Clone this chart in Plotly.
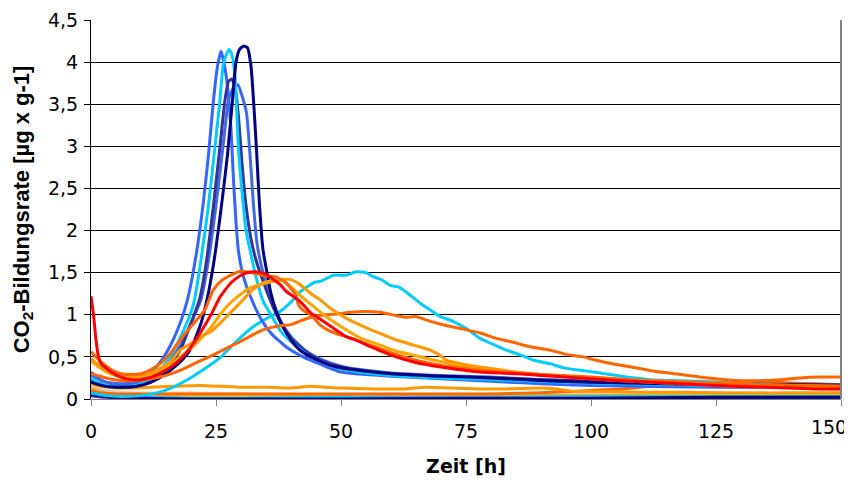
import plotly.graph_objects as go

# ---- data (hours, CO2 formation rate) ----
navy_t = [0, 3, 6, 9, 12, 15, 18, 20, 22, 23.2, 24.5, 26, 27.3, 28.3, 29, 29.7, 30.5, 31.3, 32, 32.5, 33.1, 33.7, 34.4, 35.2, 36, 37, 38, 40, 42, 45, 48, 50, 55, 60, 70, 80, 90, 100, 125, 150]
navy_y = [0.2, 0.15, 0.14, 0.15, 0.2, 0.3, 0.45, 0.6, 0.9, 1.18, 1.6, 2.25, 2.9, 3.55, 4.0, 4.15, 4.19, 4.17, 3.95, 3.55, 2.96, 2.3, 1.77, 1.5, 1.25, 1.05, 0.9, 0.7, 0.57, 0.47, 0.4, 0.37, 0.33, 0.3, 0.27, 0.25, 0.22, 0.2, 0.17, 0.16]

royal_t = [0, 2, 4, 6, 8, 10, 12, 14, 16, 18, 19.3, 21, 22.5, 23.5, 24.5, 25.3, 26, 27, 28, 28.5, 29, 29.5, 30.5, 32, 34, 36, 39, 42.4, 46, 50, 60, 70, 80, 90, 100, 125, 150]
royal_y = [0.32, 0.22, 0.19, 0.18, 0.19, 0.23, 0.32, 0.45, 0.65, 0.93, 1.18, 1.7, 2.35, 2.9, 3.55, 3.95, 4.13, 3.85, 3.2, 2.6, 2.1, 1.75, 1.45, 1.2, 0.95, 0.78, 0.62, 0.5, 0.41, 0.32, 0.27, 0.24, 0.21, 0.18, 0.16, 0.14, 0.13]

cyan_t = [0, 2, 4, 6, 8, 10, 12, 14, 16, 18, 20, 20.7, 22, 23.5, 24.8, 25.8, 26.5, 27.6, 28.2, 28.8, 29.5, 30.3, 31, 31.8, 33, 34.5, 35.8, 38, 40, 43.8, 48, 50, 55, 60, 70, 80, 90, 100, 125, 150]
cyan_y = [0.25, 0.18, 0.15, 0.14, 0.15, 0.18, 0.25, 0.36, 0.52, 0.75, 1.03, 1.18, 1.65, 2.3, 3.0, 3.55, 3.99, 4.15, 4.08, 3.83, 2.96, 2.4, 2.0, 1.77, 1.45, 1.15, 1.02, 0.8, 0.68, 0.5, 0.4, 0.36, 0.31, 0.28, 0.25, 0.23, 0.21, 0.19, 0.16, 0.15]

slate_t = [0, 3, 6, 9, 12, 15, 18, 20, 21.7, 23, 24.5, 25.8, 26.8, 27.5, 28.2, 28.8, 29.5, 30.2, 31, 32, 33, 34.4, 36, 38, 40, 43, 46, 50, 55, 60, 70, 80, 90, 100, 125, 150]
slate_y = [0.22, 0.16, 0.14, 0.15, 0.2, 0.33, 0.6, 0.9, 1.18, 1.6, 2.3, 3.0, 3.55, 3.77, 3.8, 3.7, 3.35, 2.8, 2.3, 1.9, 1.65, 1.4, 1.15, 0.9, 0.72, 0.56, 0.46, 0.38, 0.33, 0.3, 0.27, 0.25, 0.23, 0.21, 0.18, 0.17]

blue_t = [0, 3, 6, 9, 12, 15, 18, 20, 22, 23.5, 25, 26.5, 27.5, 28.5, 29.4, 30.2, 31.1, 31.8, 32.5, 33.2, 34, 35, 36.5, 38, 40, 43, 46, 50, 55, 60, 70, 80, 90, 100, 125, 150]
blue_y = [0.28, 0.2, 0.17, 0.18, 0.24, 0.38, 0.65, 0.9, 1.18, 1.65, 2.3, 3.05, 3.55, 3.7, 3.73, 3.6, 3.4, 2.9, 2.3, 1.85, 1.6, 1.38, 1.12, 0.92, 0.74, 0.57, 0.47, 0.39, 0.34, 0.31, 0.28, 0.26, 0.23, 0.21, 0.18, 0.16]

wide_cyan_t = [0, 3, 6, 10, 13, 16, 19, 22, 26, 29, 32.5, 35.8, 37.8, 40, 42, 44.5, 46, 48.5, 51, 53, 55, 56.5, 58, 59.8, 61.5, 63, 65.8, 68, 69.8, 72.5, 75, 77.8, 80, 83.1, 86, 88.5, 91.8, 94.5, 98, 101.8, 106, 111.8, 116, 121.8, 130, 138, 150]
wide_cyan_y = [0.07, 0.04, 0.03, 0.04, 0.07, 0.13, 0.22, 0.33, 0.5, 0.68, 0.86, 0.98, 1.04, 1.15, 1.28, 1.38, 1.4, 1.47, 1.47, 1.51, 1.5, 1.45, 1.42, 1.35, 1.33, 1.27, 1.14, 1.05, 0.98, 0.92, 0.84, 0.72, 0.66, 0.58, 0.52, 0.46, 0.42, 0.37, 0.34, 0.31, 0.27, 0.23, 0.22, 0.21, 0.19, 0.17, 0.15]

red_t = [0, 0.5, 1, 1.5, 2, 4, 6, 8, 10, 12, 14, 16, 18, 20, 22, 24, 25.8, 28, 30, 31.2, 33, 35, 37.8, 39, 41.8, 44, 45.8, 48, 51, 53, 56, 60, 64.5, 70, 77.8, 85, 90, 97.8, 105, 115, 125, 135, 145, 150]
red_y = [1.22, 1.0, 0.7, 0.5, 0.42, 0.32, 0.26, 0.23, 0.23, 0.26, 0.31, 0.38, 0.48, 0.62, 0.8, 1.0, 1.21, 1.38, 1.47, 1.5, 1.51, 1.48, 1.36, 1.28, 1.16, 1.02, 0.95, 0.86, 0.74, 0.7, 0.62, 0.52, 0.44, 0.38, 0.32, 0.3, 0.28, 0.25, 0.22, 0.19, 0.16, 0.14, 0.12, 0.12]

early_orange_t = [0, 1, 2, 4, 6, 8, 10, 12, 14, 16, 17.8, 20, 22.8, 24.4, 26, 28, 30, 31, 33, 35, 37, 39, 40.8, 41.5, 42.5, 44, 45.8, 48, 51, 55.8, 60, 65, 70, 75, 80, 90, 100, 110, 120, 130, 140, 150]
early_orange_y = [0.56, 0.5, 0.44, 0.35, 0.3, 0.29, 0.3, 0.35, 0.43, 0.55, 0.7, 0.86, 1.06, 1.29, 1.4, 1.47, 1.52, 1.51, 1.49, 1.46, 1.45, 1.38, 1.25, 1.12, 1.05, 1.0, 0.88, 0.8, 0.74, 0.64, 0.55, 0.46, 0.4, 0.36, 0.33, 0.29, 0.26, 0.22, 0.2, 0.18, 0.16, 0.15]

amber_t = [0, 2, 4, 6, 8, 10, 12, 14, 16, 17.8, 20, 22, 24, 25.8, 27.5, 29.8, 32.4, 34.4, 37, 39.8, 41.8, 44, 45.8, 47.8, 51, 54.5, 57.8, 61.1, 64.5, 67.8, 69.5, 71.1, 74, 77.8, 85, 90, 97.8, 105, 115, 125, 135, 150]
amber_y = [0.48, 0.38, 0.3, 0.26, 0.25, 0.27, 0.31, 0.37, 0.45, 0.58, 0.66, 0.74, 0.8, 0.9, 1.0, 1.14, 1.3, 1.38, 1.41, 1.42, 1.36, 1.25, 1.18, 1.08, 0.96, 0.86, 0.78, 0.7, 0.64, 0.58, 0.53, 0.46, 0.42, 0.38, 0.32, 0.29, 0.25, 0.22, 0.19, 0.16, 0.14, 0.12]

gold_t = [0, 2, 4, 6, 8, 10, 12, 14, 16, 17.8, 20, 22, 24, 25.8, 27.5, 29, 31.8, 34, 37, 38.5, 40, 42, 44.5, 47, 51.1, 54, 57.8, 61, 64.5, 68, 71.1, 75, 80, 90, 100, 110, 120, 130, 140, 150]
gold_y = [0.45, 0.36, 0.3, 0.27, 0.26, 0.27, 0.3, 0.35, 0.41, 0.5, 0.6, 0.72, 0.85, 1.0, 1.12, 1.2, 1.32, 1.36, 1.4, 1.4, 1.33, 1.22, 1.1, 0.98, 0.82, 0.72, 0.64, 0.57, 0.52, 0.47, 0.43, 0.38, 0.34, 0.29, 0.25, 0.22, 0.2, 0.18, 0.16, 0.15]

late_orange_t = [0, 3, 6, 9, 12, 15, 17.8, 21, 24.4, 27, 29.8, 32, 34.4, 37.8, 39.8, 42, 44.5, 47, 49.1, 52, 54.5, 57.8, 61.1, 63, 65, 67, 69.8, 72, 74.5, 78, 81.1, 84, 87.8, 91.8, 95, 98.5, 101, 105, 110, 113.8, 118, 121.8, 125, 129, 135, 138, 141.8, 146, 150]
late_orange_y = [0.3, 0.25, 0.22, 0.22, 0.24, 0.28, 0.34, 0.43, 0.52, 0.6, 0.68, 0.75, 0.82, 0.87, 0.88, 0.93, 0.98, 1.0, 1.01, 1.03, 1.04, 1.03, 0.99, 0.97, 0.98, 0.94, 0.89, 0.86, 0.83, 0.78, 0.72, 0.68, 0.62, 0.58, 0.53, 0.5, 0.46, 0.41, 0.36, 0.32, 0.29, 0.26, 0.24, 0.22, 0.22, 0.23, 0.25, 0.26, 0.26]

flat_orange_t = [0, 2, 5, 8, 12, 16, 21.8, 26, 30, 35, 39.8, 43.8, 47, 50, 57, 63, 67, 72, 78, 83, 90, 93, 96.5, 100, 110, 120, 130, 140, 150]
flat_orange_y = [0.18, 0.15, 0.13, 0.13, 0.14, 0.15, 0.16, 0.15, 0.14, 0.14, 0.13, 0.15, 0.14, 0.13, 0.12, 0.12, 0.14, 0.13, 0.12, 0.12, 0.13, 0.12, 0.09, 0.09, 0.08, 0.08, 0.07, 0.07, 0.07]

low_red_orange_t = [0, 2, 5, 10, 20, 30, 40, 50, 60, 70, 80, 88, 92, 96, 100, 106, 111.8, 116, 121.8, 126, 131.8, 136, 140, 145, 150]
low_red_orange_y = [0.1, 0.07, 0.06, 0.06, 0.06, 0.06, 0.06, 0.06, 0.06, 0.06, 0.06, 0.07, 0.08, 0.09, 0.1, 0.12, 0.15, 0.17, 0.19, 0.2, 0.21, 0.2, 0.19, 0.18, 0.17]

base_t = [0, 3, 6, 10, 20, 30, 50, 75, 100, 125, 150]
base_cyan_y = [0.08, 0.04, 0.03, 0.02, 0.01, 0.01, 0.02, 0.02, 0.03, 0.03, 0.03]
base_navy_y = [0.06, 0.03, 0.02, 0.01, 0.0, 0.0, 0.0, 0.01, 0.01, 0.02, 0.02]
base_yellow_y = [0.1, 0.06, 0.05, 0.04, 0.03, 0.03, 0.02, 0.03, 0.03, 0.04, 0.04]
base_amber_y = [0.12, 0.07, 0.05, 0.05, 0.04, 0.04, 0.04, 0.04, 0.04, 0.05, 0.05]
base_skyblue_y = [0.13, 0.08, 0.06, 0.05, 0.04, 0.04, 0.03, 0.04, 0.04, 0.05, 0.05]
base_tan_y = [0.15, 0.1, 0.08, 0.07, 0.07, 0.06, 0.05, 0.05, 0.06, 0.07, 0.08]
base_slate_y = [0.04, 0.02, 0.01, 0.01, 0.0, 0.0, 0.0, 0.0, 0.01, 0.01, 0.01]

x_ticks = [0, 25, 50, 75, 100, 125, 150]
x_tick_labels = ["0", "25", "50", "75", "100", "125", "150"]
y_ticks = [0, 0.5, 1, 1.5, 2, 2.5, 3, 3.5, 4, 4.5]

series = [
    (base_t, base_tan_y, "#FFCC99"),
    (base_t, base_skyblue_y, "#99CCFF"),
    (base_t, base_amber_y, "#FF9900"),
    (base_t, base_yellow_y, "#FFCC00"),
    (base_t, base_slate_y, "#333399"),
    (base_t, base_cyan_y, "#00CCFF"),
    (base_t, base_navy_y, "#000080"),
    (low_red_orange_t, low_red_orange_y, "#FF6600"),
    (flat_orange_t, flat_orange_y, "#FF9900"),
    (wide_cyan_t, wide_cyan_y, "#00CCFF"),
    (royal_t, royal_y, "#3366FF"),
    (blue_t, blue_y, "#4169E1"),
    (slate_t, slate_y, "#333399"),
    (cyan_t, cyan_y, "#00CCFF"),
    (navy_t, navy_y, "#000080"),
    (late_orange_t, late_orange_y, "#FF6600"),
    (gold_t, gold_y, "#FFA500"),
    (amber_t, amber_y, "#FF9900"),
    (early_orange_t, early_orange_y, "#FF6600"),
    (red_t, red_y, "#FF0000"),
]

fig = go.Figure()
for t, y, c in series:
    fig.add_trace(go.Scatter(x=t, y=y, mode="lines", line=dict(color=c, width=3, shape="spline", smoothing=0.5),
                             showlegend=False, hoverinfo="skip"))
# empty carrier trace for the overlay axis that holds the last (shifted) tick label
fig.add_trace(go.Scatter(x=[], y=[], xaxis="x2", yaxis="y", showlegend=False, hoverinfo="skip"))

tick_font = dict(family="DejaVu Sans, Arial, sans-serif", size=19, color="black")

# page body adds an 8px offset; the figure is sized/margined to compensate
fig.update_layout(
    width=852, height=475,
    margin=dict(l=83, r=19, t=12, b=84, autoexpand=False),
    paper_bgcolor="white", plot_bgcolor="white",
    separators=",.",
    font=dict(family="DejaVu Sans, Arial, sans-serif", size=18, color="black"),
    showlegend=False,
    xaxis2=dict(overlaying="x", anchor="y", side="bottom", range=[0, 150],
                tickmode="array", tickvals=x_ticks[-1:], ticktext=x_tick_labels[-1:],
                ticks="", showline=False, showgrid=False, zeroline=False,
                tickfont=tick_font, ticklabelstandoff=15, ticklabelshift=-12, ticklabeloverflow="allow"),
)
fig.layout.xaxis.update(
    range=[0, 150], tickmode="array", tickvals=x_ticks, ticktext=x_tick_labels[:-1] + [""],
    ticks="outside", ticklen=6, tickcolor="#808080",
    showline=True, linecolor="#808080", linewidth=1, showgrid=False, zeroline=False,
    tickfont=tick_font, ticklabelstandoff=9, ticklabeloverflow="allow",
    title=dict(text="<b>Zeit [h]</b>", font=dict(family="DejaVu Sans, Arial, sans-serif", size=19), standoff=18),
)
fig.layout.yaxis.update(
    range=[0, 4.5], tickvals=y_ticks, ticks="outside", ticklen=6, tickcolor="black",
    showline=True, linecolor="black", linewidth=1, showgrid=True, gridcolor="black", gridwidth=1,
    zeroline=False, tickfont=tick_font, ticklabelstandoff=2,
    title=dict(text="<b>CO<sub>2</sub>-Bildungsrate [µg x g-1]</b>",
               font=dict(family="Liberation Sans, Arial, sans-serif", size=22), standoff=12),
)
fig.add_shape(type="line", xref="paper", yref="paper", x0=1, x1=1, y0=0, y1=1,
              line=dict(color="#808080", width=2))

fig.write_html("out.html")
